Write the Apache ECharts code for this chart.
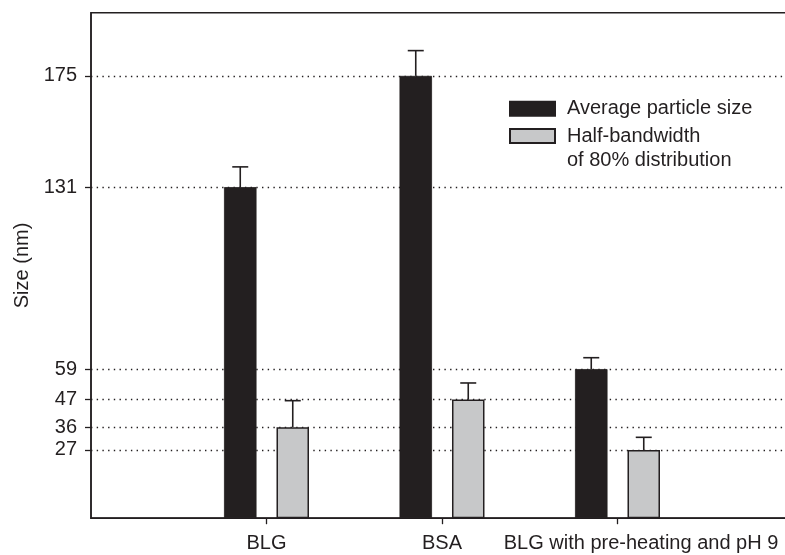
<!DOCTYPE html>
<html>
<head>
<meta charset="utf-8">
<script src="https://cdn.jsdelivr.net/npm/echarts@6/dist/echarts.min.js"></script>
<style>
  html, body { margin: 0; padding: 0; background: #fff; }
  #chart { width: 785px; height: 555px; }
</style>
</head>
<body>
<div id="chart"></div>
<script>
// Particle size measurements (nm)
const categories = ['BLG', 'BSA', 'BLG with pre-heating and pH 9'];
const avgSize = [131, 175, 59];
const avgSizeErr = [8, 10, 4.5];
const halfBand = [36, 47, 27];
const halfBandErr = [10.5, 6.5, 5];
const yTicks = [27, 36, 47, 59, 131, 175];
const seriesNames = ['Average particle size', 'Half-bandwidth\nof 80% distribution'];

const INK = '#231f20';
const GREY = '#c7c8c9';
const FONT = "'Liberation Sans', Arial, Helvetica, sans-serif";
const BAR_W = 32.5;
const BAR_GAP = 20;

// Empty slots at both ends keep the groups evenly spaced along the frame
const axisCats = [''].concat(categories.map(function (c, i) {
  if (i === categories.length - 1) {
    return { value: c, textStyle: { padding: [0, 0, 0, 47] } };
  }
  return c;
})).concat(['']);

function padData(arr) { return ['-'].concat(arr).concat(['-']); }

function errData(vals, errs) {
  return vals.map(function (v, i) { return [i + 1, v, errs[i]]; });
}

function errRenderer(offset) {
  return function (params, api) {
    const idx = api.value(0);
    const v = api.value(1);
    const e = api.value(2);
    const base = api.coord([idx, v]);
    const top = api.coord([idx, v + e]);
    const x = base[0] + offset;
    const st = { stroke: INK, lineWidth: 1.6 };
    return {
      type: 'group',
      children: [
        { type: 'line', shape: { x1: x, y1: base[1], x2: x, y2: top[1] }, style: st },
        { type: 'line', shape: { x1: x - 8, y1: top[1], x2: x + 8, y2: top[1] }, style: st }
      ]
    };
  };
}

const half = (BAR_W + BAR_GAP) / 2;

const chart = echarts.init(document.getElementById('chart'), null, { renderer: 'canvas' });
chart.setOption({
  animation: false,
  textStyle: { fontFamily: FONT, color: INK },
  grid: {
    left: 91, top: 12.7, width: 702, height: 505.5,
    outerBoundsMode: 'none',
    show: true, borderColor: INK, borderWidth: 1.5, backgroundColor: 'transparent'
  },
  legend: [
    {
      data: [seriesNames[0]],
      left: 509, top: 96.7, padding: 0,
      icon: 'rect', itemWidth: 45, itemHeight: 14,
      textStyle: { fontFamily: FONT, fontSize: 20, color: INK, lineHeight: 24, padding: [0, 0, 0, 7] }
    },
    {
      data: [seriesNames[1]],
      left: 509, top: 100, padding: 0,
      icon: 'rect', itemWidth: 45, itemHeight: 14,
      // leading blank line keeps the first text line level with the swatch
      formatter: function (name) { return '\n' + name; },
      textStyle: { fontFamily: FONT, fontSize: 20, color: INK, lineHeight: 24, padding: [0, 0, 0, 7] }
    }
  ],
  xAxis: {
    type: 'category',
    data: axisCats,
    boundaryGap: false,
    axisLine: { lineStyle: { color: INK, width: 1.5 } },
    axisTick: {
      length: 6, lineStyle: { color: INK, width: 1.3 },
      interval: function (i) { return i >= 1 && i <= categories.length; }
    },
    axisLabel: { interval: 0, fontSize: 20, color: INK, fontFamily: FONT, margin: 15 },
    splitLine: { show: false }
  },
  yAxis: {
    type: 'value',
    min: 0, max: 200,
    name: 'Size (nm)',
    nameLocation: 'middle',
    nameGap: 54,
    nameTextStyle: { fontSize: 20, color: INK, fontFamily: FONT },
    axisLine: { show: true, lineStyle: { color: INK, width: 1.5 } },
    axisTick: { show: true, length: 6, customValues: yTicks, lineStyle: { color: INK, width: 1.3 } },
    axisLabel: { customValues: yTicks, fontSize: 20, color: INK, fontFamily: FONT, margin: 14 },
    splitLine: { show: true, lineStyle: { color: INK, width: 1.3, type: [1.4, 4.3] } }
  },
  series: [
    {
      name: seriesNames[0], type: 'bar',
      data: padData(avgSize),
      barWidth: BAR_W, barGap: (BAR_GAP / BAR_W * 100).toFixed(1) + '%',
      itemStyle: { color: INK, borderColor: INK, borderWidth: 0.8 },
      z: 3
    },
    {
      name: seriesNames[1], type: 'bar',
      data: padData(halfBand),
      barWidth: BAR_W,
      itemStyle: { color: GREY, borderColor: INK, borderWidth: 1.5 },
      z: 3
    },
    {
      type: 'custom', name: 'avgErr',
      data: errData(avgSize, avgSizeErr),
      encode: { x: 0, y: 1 },
      renderItem: errRenderer(-half), z: 4
    },
    {
      type: 'custom', name: 'halfErr',
      data: errData(halfBand, halfBandErr),
      encode: { x: 0, y: 1 },
      renderItem: errRenderer(half), z: 4
    }
  ]
});
</script>
</body>
</html>
